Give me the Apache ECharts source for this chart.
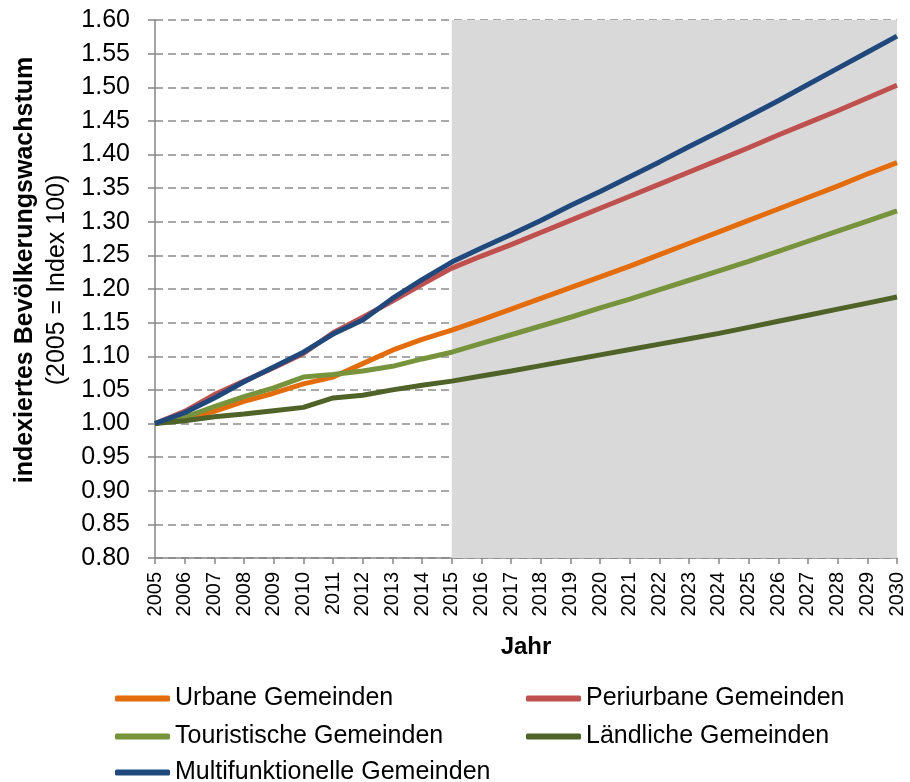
<!DOCTYPE html>
<html>
<head>
<meta charset="utf-8">
<script src="https://cdn.jsdelivr.net/npm/echarts@6/dist/echarts.min.js"></script>
<style>
  html, body { margin: 0; padding: 0; background: #fff; }
  #chart { width: 910px; height: 782px; }
</style>
</head>
<body>
<div id="chart"></div>
<script>
const years = ['2005', '2006', '2007', '2008', '2009', '2010', '2011', '2012', '2013',
  '2014', '2015', '2016', '2017', '2018', '2019', '2020', '2021', '2022', '2023',
  '2024', '2025', '2026', '2027', '2028', '2029', '2030'];

const yTicks = ['0.80', '0.85', '0.90', '0.95', '1.00', '1.05', '1.10', '1.15', '1.20',
  '1.25', '1.30', '1.35', '1.40', '1.45', '1.50', '1.55', '1.60'];

const urban = [1.000, 1.007, 1.018, 1.033, 1.045, 1.059, 1.069, 1.089, 1.109, 1.125, 1.139,
  1.154, 1.170, 1.186, 1.202, 1.218, 1.234, 1.251, 1.268, 1.285, 1.302, 1.319, 1.336, 1.353, 1.371, 1.388];
const periurban = [1.000, 1.018, 1.043, 1.063, 1.083, 1.104, 1.135, 1.158, 1.182, 1.207, 1.231,
  1.249, 1.266, 1.284, 1.302, 1.320, 1.338, 1.356, 1.374, 1.392, 1.410, 1.429, 1.447, 1.465, 1.484, 1.503];
const touristic = [1.000, 1.009, 1.025, 1.040, 1.053, 1.069, 1.073, 1.078, 1.085, 1.096, 1.106,
  1.119, 1.132, 1.145, 1.158, 1.172, 1.185, 1.199, 1.213, 1.227, 1.241, 1.256, 1.271, 1.286, 1.301, 1.316];
const rural = [1.000, 1.004, 1.010, 1.014, 1.019, 1.024, 1.038, 1.042, 1.050, 1.057, 1.063,
  1.0705, 1.078, 1.086, 1.094, 1.102, 1.110, 1.118, 1.126, 1.134, 1.143, 1.152, 1.161, 1.170, 1.179, 1.188];
const multi = [1.000, 1.016, 1.038, 1.062, 1.084, 1.106, 1.133, 1.154, 1.186, 1.214, 1.240,
  1.261, 1.281, 1.302, 1.324, 1.345, 1.367, 1.389, 1.412, 1.434, 1.457, 1.480, 1.504, 1.528, 1.552, 1.576];

const font = '"Liberation Sans", Arial, sans-serif';
const chart = echarts.init(document.getElementById('chart'));

function line(name, data, color) {
  return {
    name: name,
    type: 'line',
    data: data,
    showSymbol: false,
    symbol: 'none',
    lineStyle: { color: color, width: 5 },
    itemStyle: { color: color },
    z: 3
  };
}

// one legend per entry, so rows and columns sit where the original has them
function legendItem(name, left, top) {
  return {
    left: left, top: top, padding: 0,
    itemWidth: 55, itemHeight: 6, icon: 'roundRect', itemGap: 0,
    textStyle: { fontFamily: font, fontSize: 25, color: '#000' },
    data: [name]
  };
}

chart.setOption({
  animation: false,
  grid: { left: 155, right: 13, top: 20, bottom: 224 },
  xAxis: {
    type: 'category',
    data: years,
    boundaryGap: false,
    name: 'Jahr',
    nameLocation: 'middle',
    nameGap: 77,
    nameTextStyle: { fontFamily: font, fontSize: 24, fontWeight: 'bold', color: '#000' },
    axisLine: { lineStyle: { color: '#868686', width: 1.5 } },
    axisTick: { show: true, alignWithLabel: true, length: 6, interval: 0, lineStyle: { color: '#868686', width: 1.5 } },
    axisLabel: { interval: 0, rotate: 90, margin: 14, fontFamily: font, fontSize: 20, color: '#000' },
    splitLine: { show: false }
  },
  yAxis: {
    type: 'value',
    min: 0.8,
    max: 1.6,
    interval: 0.05,
    axisLine: { show: true, lineStyle: { color: '#868686', width: 1.5 } },
    axisTick: { show: true, length: 7, lineStyle: { color: '#868686', width: 1.5 } },
    axisLabel: {
      margin: 25, fontFamily: font, fontSize: 25, color: '#000',
      formatter: function (v) {
        const i = Math.round((v - 0.8) / 0.05);
        return yTicks[i] !== undefined ? yTicks[i] : '';
      }
    },
    splitLine: { show: true, lineStyle: { color: '#8c8c8c', width: 1.5, type: [8, 5] } }
  },
  legend: [
    legendItem('Urbane Gemeinden', 115, 686),
    legendItem('Touristische Gemeinden', 115, 724),
    legendItem('Multifunktionelle Gemeinden', 115, 760),
    legendItem('Periurbane Gemeinden', 526, 686),
    legendItem('Ländliche Gemeinden', 526, 724)
  ],
  graphic: [
    {
      type: 'text', x: 25, y: 270, rotation: Math.PI / 2,
      style: {
        text: 'indexiertes Bevölkerungswachstum', fontFamily: font, fontSize: 25,
        fontWeight: 'bold', fill: '#000', align: 'center', verticalAlign: 'middle'
      }
    },
    {
      type: 'text', x: 57, y: 280, rotation: Math.PI / 2,
      style: {
        text: '(2005 = Index 100)', fontFamily: font, fontSize: 25,
        fill: '#000', align: 'center', verticalAlign: 'middle'
      }
    }
  ],
  series: [
    {
      name: 'shade',
      type: 'line',
      data: [],
      z: -1,
      silent: true,
      markArea: {
        silent: true,
        itemStyle: { color: '#d9d9d9' },
        data: [[{ xAxis: '2015' }, { xAxis: '2030' }]]
      }
    },
    line('Urbane Gemeinden', urban, '#e46c0a'),
    line('Periurbane Gemeinden', periurban, '#c0504d'),
    line('Touristische Gemeinden', touristic, '#77933c'),
    line('Ländliche Gemeinden', rural, '#4f6228'),
    line('Multifunktionelle Gemeinden', multi, '#1f497d')
  ]
});
</script>
</body>
</html>
